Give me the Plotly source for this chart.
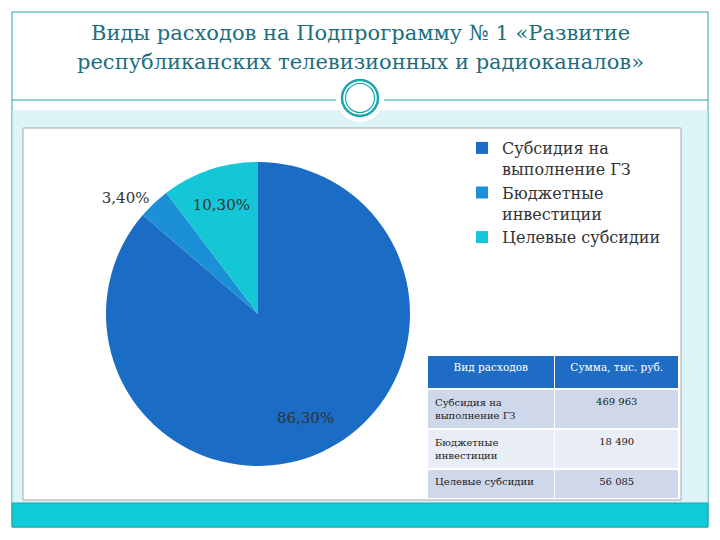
import plotly.graph_objects as go

# ---- data ----
categories = ["Субсидия на выполнение ГЗ", "Бюджетные инвестиции", "Целевые субсидии"]
legend_labels = ["Субсидия на<br>выполнение ГЗ", "Бюджетные<br>инвестиции", "Целевые субсидии"]
table_labels = ["Субсидия на<br>выполнение ГЗ", "Бюджетные<br>инвестиции", "Целевые субсидии"]
amounts = [469963, 18490, 56085]          # тыс. руб.
pct_labels = ["86,30%", "3,40%", "10,30%"]
table_header = ["Вид расходов", "Сумма, тыс. руб."]
title_lines = ["Виды расходов на Подпрограмму № 1 «Развитие",
               "республиканских телевизионных и радиоканалов»"]

slice_colors = ["#1A6CC4", "#1B90D6", "#14C6D6"]

SERIF = "DejaVu Serif"
W, H = 720, 540
OFF = 8  # page body margin of the viewer
def px(x): return (x - OFF) / W
def py(y): return 1 - (y - OFF) / H

pie_domain = dict(x=[px(106), px(410)], y=[py(466), py(162)])

fig = go.Figure()

# coloured pie (legend source)
fig.add_trace(go.Pie(
    labels=legend_labels,
    values=amounts,
    textinfo="none",
    sort=False,
    direction="clockwise",
    rotation=0,
    marker=dict(colors=slice_colors, line=dict(width=0)),
    domain=pie_domain,
    hoverinfo="label+value+percent",
))

# transparent overlay carrying the percentage labels (hole pushes labels outward)
fig.add_trace(go.Pie(
    labels=legend_labels,
    values=amounts,
    text=pct_labels,
    textinfo="text",
    textposition=["inside", "outside", "inside"],
    insidetextorientation="horizontal",
    hole=0.5,
    sort=False,
    direction="clockwise",
    rotation=0,
    showlegend=False,
    marker=dict(colors=["rgba(0,0,0,0)"] * 3, line=dict(width=0)),
    textfont=dict(family=SERIF, size=15, color="#333333"),
    outsidetextfont=dict(family=SERIF, size=15, color="#333333"),
    domain=pie_domain,
    hoverinfo="skip",
))

fmt = lambda v: f"{v:,}".replace(",", " ")
fig.add_trace(go.Table(
    domain=dict(x=[px(427), px(680)], y=[py(499), py(355)]),
    columnwidth=[128, 125],
    header=dict(values=table_header,
                fill_color="#1F6CC4",
                line=dict(color="white", width=1.5),
                align=["center", "center"],
                height=34,
                font=dict(family=SERIF, size=10.5, color="white")),
    cells=dict(values=[table_labels, [fmt(v) for v in amounts]],
               fill_color=[["#CFD7EA", "#E8EDF6", "#CFD7EA"]] * 2,
               line=dict(color="white", width=1.5),
               align=["left", "center"],
               height=34,
               font=dict(family=SERIF, size=10, color="#222222")),
))

shapes = [
    dict(type="rect", x0=px(12), x1=px(708), y0=py(527), y1=py(12),
         line=dict(color="#2A9FA8", width=1), fillcolor="white"),
    dict(type="rect", x0=px(12.5), x1=px(707.5), y0=py(503), y1=py(110),
         line=dict(width=0), fillcolor="#DCF4F8"),
    dict(type="rect", x0=px(12), x1=px(708), y0=py(527), y1=py(503),
         line=dict(color="#2A9FA8", width=1), fillcolor="#10CCD8"),
    dict(type="rect", x0=px(23), x1=px(681), y0=py(500), y1=py(128),
         line=dict(color="#A8A8A8", width=1), fillcolor="white"),
    dict(type="line", x0=px(12), x1=px(708), y0=py(100), y1=py(100),
         line=dict(color="#2A9FA8", width=1)),
    dict(type="circle", x0=px(336), x1=px(384), y0=py(122), y1=py(74),
         line=dict(width=0), fillcolor="white"),
    dict(type="circle", x0=px(342), x1=px(378), y0=py(116), y1=py(80),
         line=dict(color="#19A6AE", width=2.5), fillcolor="rgba(0,0,0,0)"),
    dict(type="circle", x0=px(345.5), x1=px(374.5), y0=py(112.5), y1=py(83.5),
         line=dict(color="#19A6AE", width=1.2), fillcolor="rgba(0,0,0,0)"),
]
for s in shapes:
    s["xref"] = "paper"; s["yref"] = "paper"; s["layer"] = "below"

annotations = [
    dict(text=title_lines[0], x=px(360), y=py(33), xref="paper", yref="paper",
         showarrow=False, xanchor="center", yanchor="middle",
         font=dict(family=SERIF, size=21, color="#1C6E7E")),
    dict(text=title_lines[1], x=px(360), y=py(62), xref="paper", yref="paper",
         showarrow=False, xanchor="center", yanchor="middle",
         font=dict(family=SERIF, size=21, color="#1C6E7E")),
]

fig.update_layout(
    width=W, height=H,
    margin=dict(l=0, r=0, t=0, b=0),
    paper_bgcolor="white",
    shapes=shapes,
    annotations=annotations,
    showlegend=True,
    legend=dict(x=px(462), y=py(131), xanchor="left", yanchor="top",
                bgcolor="rgba(0,0,0,0)", valign="top",
                itemwidth=30,
                font=dict(family=SERIF, size=16, color="#333333")),
)

fig.write_html("out.html")
